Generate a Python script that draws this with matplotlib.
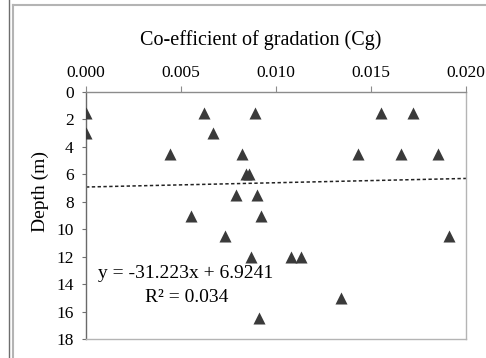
import matplotlib.pyplot as plt
from matplotlib.lines import Line2D

# Co-efficient of gradation vs depth
cg = [0.0000, 0.0062, 0.0089, 0.0155, 0.0172,
      0.0000, 0.0067,
      0.0044, 0.0082, 0.0143, 0.0166, 0.0185,
      0.0084, 0.0086,
      0.0079, 0.0090,
      0.0055, 0.0092,
      0.0073, 0.0191,
      0.0087, 0.0108, 0.0113,
      0.0134,
      0.0091]
depth = [1.5, 1.5, 1.5, 1.5, 1.5,
         3.0, 3.0,
         4.5, 4.5, 4.5, 4.5, 4.5,
         6.0, 6.0,
         7.5, 7.5,
         9.0, 9.0,
         10.5, 10.5,
         12.0, 12.0, 12.0,
         15.0,
         16.5]

# linear trend (Excel fit)
slope = -31.223
intercept = 6.9241
r2 = 0.034
trend_x = [0.0, 0.020]
trend_y = [slope * x + intercept for x in trend_x]

xticks = [0.000, 0.005, 0.010, 0.015, 0.020]
yticks = list(range(0, 19, 2))

plt.rcParams["font.family"] = "Liberation Serif"

W, H = 486, 358
fig = plt.figure(figsize=(W / 100, H / 100), dpi=100)
ax = fig.add_axes([86 / W, 1 - 339 / H, 380 / W, 247 / H])

ax.scatter(cg, depth, marker="^", s=75, color="#3a3a3a", linewidths=0, zorder=3)
ax.plot(trend_x, trend_y, color="#222222", linewidth=1.1, linestyle=(0, (2.2, 1.6)))

ax.set_xlim(0, 0.020)
ax.set_ylim(18, 0)
ax.set_xticks(xticks)
ax.set_xticklabels([f"{t:.3f}" for t in xticks])
ax.set_yticks(yticks)
ax.xaxis.tick_top()
ax.tick_params(axis="x", direction="out", length=4, color="#8c8c8c",
               labelsize=12.5, pad=4, top=True, bottom=False)
ax.tick_params(axis="y", direction="out", length=3, color="#707070",
               labelsize=12.5, pad=6)

ax.spines["left"].set_color("#6a6a6a")
ax.spines["top"].set_color("#8c8c8c")
ax.spines["right"].set_color("#b4b4b4")
ax.spines["bottom"].set_color("#b4b4b4")
for s in ax.spines.values():
    s.set_linewidth(1.0)

# trendline equation
ax.text(0.00526, 13.2, f"y = {slope}x + {intercept}",
        ha="center", va="center", fontsize=14)
ax.text(0.00532, 14.95, f"R² = {r2}",
        ha="center", va="center", fontsize=14)

fig.text(261 / W, 1 - 40 / H, "Co-efficient of gradation (Cg)",
         ha="center", va="center", fontsize=14.5)
fig.text(40 / W, 1 - 192 / H, "Depth (m)", rotation=90,
         ha="center", va="center", fontsize=14)

# chart frame
fig.add_artist(Line2D([8.5 / W, 8.5 / W], [0, 1], color="#6e6e6e", linewidth=1.0))
fig.add_artist(Line2D([12.5 / W, 12.5 / W], [0, 1 - 5 / H], color="#b4b4b4", linewidth=1.5))
fig.add_artist(Line2D([12.5 / W, 1], [1 - 5 / H, 1 - 5 / H], color="#b4b4b4", linewidth=1.5))

fig.savefig("out.png", dpi=100)
